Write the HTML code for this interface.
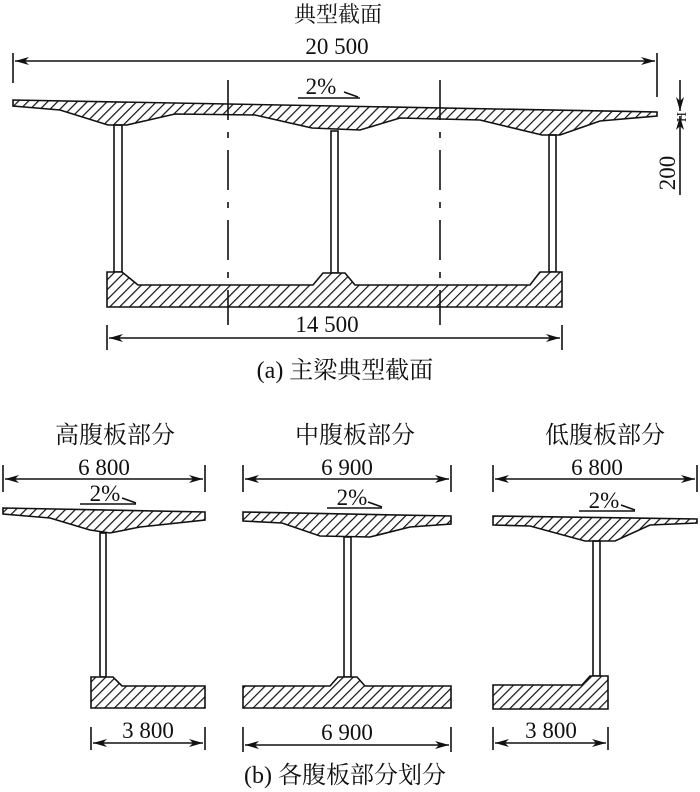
<!DOCTYPE html>
<html><head><meta charset="utf-8"><style>
html,body{margin:0;padding:0;background:#fff;}
svg{display:block;}
text{font-family:"Liberation Serif","Noto Serif CJK SC",serif;fill:#111;}
</style></head><body>
<svg width="700" height="792" viewBox="0 0 700 792" xmlns="http://www.w3.org/2000/svg">
<defs>
<pattern id="h" patternUnits="userSpaceOnUse" width="7" height="7" patternTransform="rotate(45)">
<rect width="7" height="7" fill="#fff"/><line x1="0" y1="0" x2="0" y2="7" stroke="#111" stroke-width="2.4"/>
</pattern>
<marker id="a" viewBox="0 0 14 8" refX="14" refY="4" markerWidth="14" markerHeight="8" orient="auto-start-reverse" markerUnits="userSpaceOnUse">
<path d="M0,0 L14,4 L0,8 L4,4 Z" fill="#111"/>
</marker>
</defs>
<g stroke="#111" stroke-width="1.6" fill="none">
<line x1="13" y1="53" x2="13" y2="83"/><line x1="657" y1="53" x2="657" y2="97"/>
<line x1="15" y1="61" x2="655" y2="61" marker-start="url(#a)" marker-end="url(#a)"/>
<path d="M13,100 L657,112 L657,116 L600,121 L560,135 L542,135 L480,120 L400,118 L360,130 L312,128 L255,115 L175,114 L127,125 L108,125 L60,110 L13,106 Z" fill="url(#h)"/>
<rect x="114" y="125" width="8" height="147"/>
<rect x="331" y="131" width="7" height="142"/>
<rect x="549" y="135" width="7" height="137"/>
<path d="M107,272 L122,272 L138,285 L313,285 L323,273 L345,273 L355,285 L530,285 L540,272 L562,272 L562,307 L107,307 Z" fill="url(#h)"/>
<line x1="228" y1="80" x2="228" y2="325" stroke-dasharray="40,12,6,12"/>
<line x1="440" y1="80" x2="440" y2="325" stroke-dasharray="40,12,6,12"/>
<line x1="298" y1="98" x2="360" y2="98"/><line x1="344" y1="92" x2="358" y2="97"/>
<line x1="107" y1="325" x2="107" y2="350"/><line x1="562" y1="325" x2="562" y2="350"/>
<line x1="109" y1="338" x2="560" y2="338" marker-start="url(#a)" marker-end="url(#a)"/>
<line x1="680" y1="80" x2="680" y2="111" marker-end="url(#a)"/>
<line x1="680" y1="195" x2="680" y2="116" marker-end="url(#a)"/>
<line x1="3" y1="465" x2="3" y2="492"/><line x1="205" y1="465" x2="205" y2="492"/>
<line x1="5" y1="479" x2="203" y2="479" marker-start="url(#a)" marker-end="url(#a)"/>
<line x1="80" y1="504" x2="136" y2="504"/><line x1="122" y1="498" x2="136" y2="503"/>
<path d="M3,508 L205,512 L205,520 L140,527 L110,533 L90,530 L50,518 L3,514 Z" fill="url(#h)"/>
<rect x="100" y="533" width="6" height="144"/>
<path d="M91,677 L113,677 L122,686 L205,686 L205,708 L91,708 Z" fill="url(#h)"/>
<line x1="91" y1="727" x2="91" y2="750"/><line x1="205" y1="727" x2="205" y2="750"/>
<line x1="93" y1="743" x2="203" y2="743" marker-start="url(#a)" marker-end="url(#a)"/>
<line x1="243" y1="465" x2="243" y2="492"/><line x1="451" y1="465" x2="451" y2="492"/>
<line x1="245" y1="479" x2="449" y2="479" marker-start="url(#a)" marker-end="url(#a)"/>
<line x1="327" y1="508" x2="382" y2="508"/><line x1="368" y1="502" x2="382" y2="507"/>
<path d="M243,512 L451,516 L451,524 L410,527 L370,537 L320,536 L282,523 L243,521 Z" fill="url(#h)"/>
<rect x="344" y="537" width="7" height="140"/>
<path d="M243,686 L330,686 L338,677 L357,677 L365,686 L451,686 L451,708 L243,708 Z" fill="url(#h)"/>
<line x1="243" y1="727" x2="243" y2="752"/><line x1="451" y1="727" x2="451" y2="752"/>
<line x1="245" y1="745" x2="449" y2="745" marker-start="url(#a)" marker-end="url(#a)"/>
<line x1="493" y1="465" x2="493" y2="492"/><line x1="697" y1="465" x2="697" y2="492"/>
<line x1="495" y1="479" x2="695" y2="479" marker-start="url(#a)" marker-end="url(#a)"/>
<line x1="579" y1="511" x2="635" y2="511"/><line x1="621" y1="505" x2="635" y2="510"/>
<path d="M493,516 L697,519 L697,523 L650,525 L615,541 L585,541 L530,526 L493,525 Z" fill="url(#h)"/>
<rect x="593" y="541" width="7" height="135"/>
<path d="M493,685 L582,685 L590,676 L608,676 L608,709 L493,709 Z" fill="url(#h)"/>
<line x1="493" y1="727" x2="493" y2="750"/><line x1="608" y1="727" x2="608" y2="750"/>
<line x1="495" y1="743" x2="606" y2="743" marker-start="url(#a)" marker-end="url(#a)"/>
</g>
<g font-size="23" text-anchor="middle">
<text x="338" y="22" font-size="22">典型截面</text>
<text x="337" y="54">20 500</text>
<text x="321" y="94">2%</text>
<text x="327" y="332">14 500</text>
<text x="345" y="378" font-size="24">(a) 主梁典型截面</text>
<text x="115" y="443" font-size="24">高腹板部分</text>
<text x="355" y="443" font-size="24">中腹板部分</text>
<text x="605" y="443" font-size="24">低腹板部分</text>
<text x="104" y="475">6 800</text>
<text x="347" y="475">6 900</text>
<text x="597" y="475">6 800</text>
<text x="105" y="501">2%</text>
<text x="352" y="505">2%</text>
<text x="604" y="508">2%</text>
<text x="148" y="738">3 800</text>
<text x="347" y="740">6 900</text>
<text x="551" y="738">3 800</text>
<text x="345" y="783" font-size="24">(b) 各腹板部分划分</text>
<text transform="translate(675,173) rotate(-90)">200</text>
<text font-size="14" transform="translate(686,117) rotate(-90)">H</text>
</g>
</svg>
</body></html>
